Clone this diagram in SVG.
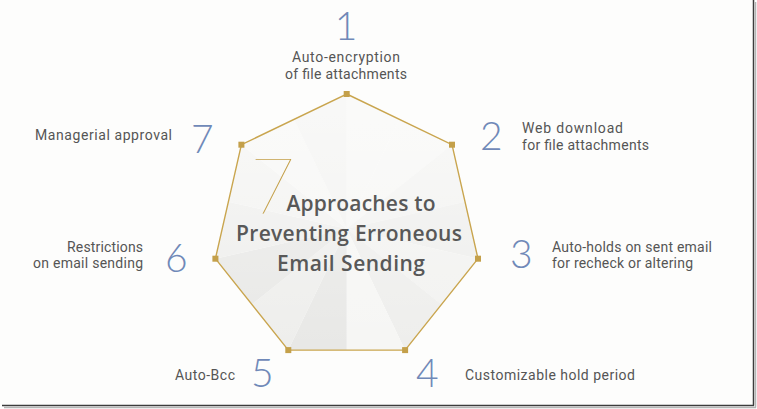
<svg xmlns="http://www.w3.org/2000/svg" width="757" height="409" viewBox="0 0 757 409">
<defs>
<style>
.lbl{font-family:"Roboto","Liberation Sans",sans-serif;font-size:14px;fill:#555555}
.num{font-family:"Lato","Open Sans",sans-serif;font-weight:300;font-size:39px;fill:#7089b8}
.title{font-family:"Open Sans","Liberation Sans",sans-serif;font-weight:600;font-size:21px;fill:#585858;text-anchor:middle}
.dot{fill:#c4a04a}
.f1{fill:#f6f6f4}.f2{fill:#eeeeec}.f3{fill:#e8e8e6}.f4{fill:#f2f2f0}
</style>
<linearGradient id="sh" x1="0" y1="0" x2="0" y2="1">
<stop offset="0" stop-color="#ffffff" stop-opacity="0.5"/>
<stop offset="1" stop-color="#ffffff" stop-opacity="0"/>
</linearGradient>
</defs>
<rect x="0" y="0" width="757" height="409" fill="#ffffff"/>
<rect x="0" y="0" width="753" height="405" fill="#fdfdfc"/>
<g id="frame">
<line x1="753.5" y1="0" x2="753.5" y2="405.5" stroke="#3c3c3c" stroke-width="1.5"/>
<line x1="2" y1="405.5" x2="754" y2="405.5" stroke="#3c3c3c" stroke-width="1.5"/>
<line x1="755.5" y1="2" x2="755.5" y2="407.5" stroke="#b5b5b5" stroke-width="1.5"/>
<line x1="4" y1="407.5" x2="756" y2="407.5" stroke="#b5b5b5" stroke-width="1.5"/>
</g>
<g id="heptagon">
<polygon class="f1" points="346.7,228.7 346.7,94 399.3,119.4"/>
<polygon class="f1" points="346.7,228.7 399.3,119.4 452,144.7"/>
<polygon class="f4" points="346.7,228.7 452,144.7 465,201.7"/>
<polygon class="f2" points="346.7,228.7 465,201.7 478,258.7"/>
<polygon class="f4" points="346.7,228.7 478,258.7 441.5,304.4"/>
<polygon class="f2" points="346.7,228.7 441.5,304.4 405.1,350.1"/>
<polygon class="f1" points="346.7,228.7 405.1,350.1 346.7,350.1"/>
<polygon class="f3" points="346.7,228.7 346.7,350.1 288.3,350.1"/>
<polygon class="f2" points="346.7,228.7 288.3,350.1 251.8,304.4"/>
<polygon class="f3" points="346.7,228.7 251.8,304.4 215.4,258.7"/>
<polygon class="f2" points="346.7,228.7 215.4,258.7 228.4,201.7"/>
<polygon class="f4" points="346.7,228.7 228.4,201.7 241.4,144.7"/>
<polygon class="f1" points="346.7,228.7 241.4,144.7 294,119.4"/>
<polygon class="f4" points="346.7,228.7 294,119.4 346.7,94"/>
<polygon points="346.7,94 452,144.7 478,258.7 405.1,350.1 288.3,350.1 215.4,258.7 241.4,144.7" fill="url(#sh)" stroke="#c9a54e" stroke-width="1.4"/>
<rect class="dot" x="343.7" y="91" width="6" height="6"/>
<rect class="dot" x="449" y="141.7" width="6" height="6"/>
<rect class="dot" x="475" y="255.7" width="6" height="6"/>
<rect class="dot" x="402.1" y="347.1" width="6" height="6"/>
<rect class="dot" x="285.3" y="347.1" width="6" height="6"/>
<rect class="dot" x="212.4" y="255.7" width="6" height="6"/>
<rect class="dot" x="238.4" y="141.7" width="6" height="6"/>
</g>
<g id="title">
<text x="250" y="214" style="font-family:'Lato','Open Sans',sans-serif;font-weight:100;font-size:78px;fill:#c4a04a">7</text>
<text class="title" x="361" y="211" textLength="149">Approaches to</text>
<text class="title" x="349" y="241" textLength="226">Preventing Erroneous</text>
<text class="title" x="351" y="271" textLength="148">Email Sending</text>
</g>
<g id="item1">
<text class="num" x="346" y="40" text-anchor="middle">1</text>
<text class="lbl" x="346" y="62" text-anchor="middle" textLength="108">Auto-encryption</text>
<text class="lbl" x="346" y="79" text-anchor="middle" textLength="122">of file attachments</text>
</g>
<g id="item2">
<text class="num" x="480" y="150">2</text>
<text class="lbl" x="522" y="133" textLength="101">Web download</text>
<text class="lbl" x="522" y="150" textLength="127">for file attachments</text>
</g>
<g id="item3">
<text class="num" x="510" y="268">3</text>
<text class="lbl" x="552" y="252" textLength="160">Auto-holds on sent email</text>
<text class="lbl" x="552" y="268" textLength="141">for recheck or altering</text>
</g>
<g id="item4">
<text class="num" x="416" y="387">4</text>
<text class="lbl" x="465" y="380" textLength="170">Customizable hold period</text>
</g>
<g id="item5">
<text class="num" x="251" y="387">5</text>
<text class="lbl" x="175" y="380" textLength="60">Auto-Bcc</text>
</g>
<g id="item6">
<text class="num" x="165" y="272">6</text>
<text class="lbl" x="143" y="252" text-anchor="end" textLength="76">Restrictions</text>
<text class="lbl" x="143" y="268" text-anchor="end" textLength="110">on email sending</text>
</g>
<g id="item7">
<text class="num" x="191" y="153">7</text>
<text class="lbl" x="35" y="140" textLength="137">Managerial approval</text>
</g>
</svg>
